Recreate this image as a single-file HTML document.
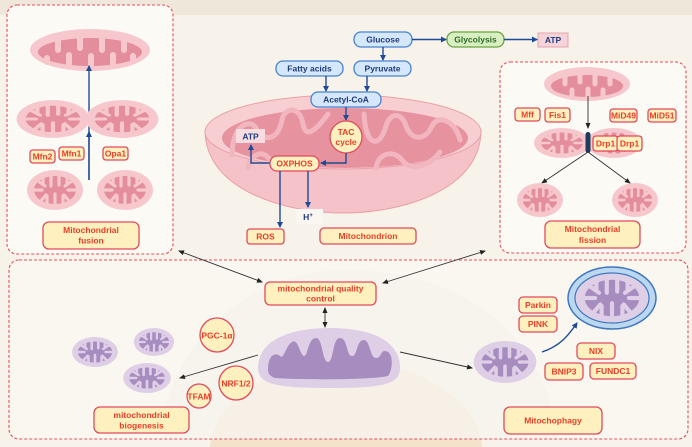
<!DOCTYPE html>
<html><head><meta charset="utf-8"><style>
html,body{margin:0;padding:0;background:#f7f3ea;width:692px;height:447px;overflow:hidden}
svg{display:block}
text{font-family:"Liberation Sans",Arial,sans-serif;font-weight:bold}
.r{fill:#fff0bf;stroke:#e14a5c;stroke-width:1.3}
.rt{fill:#ea3f27;font-size:8.5px;text-anchor:middle}
.b{fill:#d5e8fb;stroke:#4683d0;stroke-width:1.3}
.bt{fill:#1f3b78;font-size:8.5px;text-anchor:middle}
.ba{stroke:#1f4b96;stroke-width:1.4;fill:none}
.ka{stroke:#333;stroke-width:0.9;fill:none}
</style></head><body>
<svg width="692" height="447" viewBox="0 0 692 447" xmlns="http://www.w3.org/2000/svg">
<defs>
<marker id="ab" markerWidth="6" markerHeight="6" refX="5" refY="3" orient="auto" markerUnits="userSpaceOnUse"><path d="M0,0L6,3L0,6Z" fill="#1f4b96"/></marker>
<marker id="ak" markerWidth="6" markerHeight="6" refX="5" refY="3" orient="auto" markerUnits="userSpaceOnUse"><path d="M0,0.5L6,3L0,5.5Z" fill="#222"/></marker>
<marker id="aks" markerWidth="6" markerHeight="6" refX="1" refY="3" orient="auto" markerUnits="userSpaceOnUse"><path d="M6,0.5L0,3L6,5.5Z" fill="#222"/></marker>
<g id="smp">
<ellipse cx="0" cy="0" rx="28" ry="20" fill="#f6c8ce"/>
<ellipse cx="0" cy="0" rx="21" ry="14" fill="#e48d9c"/>
<path d="M-12,-15V-6M-4,-16V-4M4,-16V-5M12,-15V-6M-8,15V6M0,16V4M8,15V6M15,12L9,5M-15,12L-9,5M-22,0H-13M22,0H13M-17,-9L-10,-4M17,-9L10,-4" stroke="#f6c8ce" stroke-width="3.2" stroke-linecap="round"/>
</g>
<g id="smu">
<ellipse cx="0" cy="0" rx="28" ry="20" fill="#dfcfe6"/>
<ellipse cx="0" cy="0" rx="21" ry="14" fill="#a78cc0"/>
<path d="M-12,-15V-6M-4,-16V-4M4,-16V-5M12,-15V-6M-8,15V6M0,16V4M8,15V6M15,12L9,5M-15,12L-9,5M-22,0H-13M22,0H13M-17,-9L-10,-4M17,-9L10,-4" stroke="#dfcfe6" stroke-width="3.2" stroke-linecap="round"/>
</g>
<g id="smi">
<ellipse cx="0" cy="0" rx="21" ry="14" fill="#a78cc0"/>
<path d="M-12,-15V-6M-4,-16V-4M4,-16V-5M12,-15V-6M-8,15V6M0,16V4M8,15V6M15,12L9,5M-15,12L-9,5M-22,0H-13M22,0H13M-17,-9L-10,-4M17,-9L10,-4" stroke="#dfcfe6" stroke-width="3.2" stroke-linecap="round"/>
</g>
</defs>
<rect width="692" height="447" fill="#f7f3ea"/>
<rect width="692" height="15" fill="#efe8da"/>
<path d="M210,447 C215,400 270,362 345,362 C420,362 478,400 482,447Z" fill="#f3ddc2" opacity="0.8"/>
<path d="M160,440 C170,330 260,270 345,270 C450,270 540,320 560,440Z" fill="#ece8e2" opacity="0.45"/>

<!-- left panel -->
<rect x="7" y="5" width="166" height="249" rx="10" fill="#fcfaf5" stroke="#e2505f" stroke-width="1.1" stroke-dasharray="3,2"/>
<ellipse cx="90" cy="50" rx="60" ry="21" fill="#f6c8ce"/>
<ellipse cx="90" cy="52" rx="52" ry="14" fill="#e48d9c"/>
<path d="M58,40V50M80,38V48M102,38V50M124,40V50M47,62V58M69,64V55M91,65V56M113,64V55M133,60V56" stroke="#f6c8ce" stroke-width="6" stroke-linecap="round"/>
<line x1="89" y1="180" x2="89" y2="66" class="ba" marker-end="url(#ab)"/>
<use href="#smp" transform="translate(53,119) scale(1.3,0.95)"/><use href="#smp" transform="translate(122,119) scale(1.3,0.95)"/>
<line x1="89" y1="180" x2="89" y2="132" class="ba" marker-end="url(#ab)"/>
<use href="#smp" transform="translate(55,190)"/><use href="#smp" transform="translate(125,190)"/>
<rect x="30" y="150" width="25" height="13" rx="3" class="r"/><text x="42.5" y="159.5" class="rt" font-size="8">Mfn2</text>
<rect x="59" y="147" width="25" height="13" rx="3" class="r"/><text x="71.5" y="156.5" class="rt" font-size="8">Mfn1</text>
<rect x="103" y="147" width="25" height="13" rx="3" class="r"/><text x="115.5" y="156.5" class="rt" font-size="8">Opa1</text>
<rect x="43" y="222" width="96" height="27" rx="6" class="r"/><text x="91" y="233" class="rt">Mitochondrial</text><text x="91" y="243.5" class="rt">fusion</text>

<!-- right panel -->
<rect x="500" y="62" width="186" height="191" rx="10" fill="#fcfaf5" stroke="#e2505f" stroke-width="1.1" stroke-dasharray="3,2"/>
<ellipse cx="587" cy="84" rx="43" ry="17" fill="#f6c8ce"/>
<ellipse cx="587" cy="86" rx="36" ry="11" fill="#e48d9c"/>
<path d="M565,77V84M580,75V82M595,75V84M610,77V84M572,96V90M588,97V89M603,96V90" stroke="#f6c8ce" stroke-width="5" stroke-linecap="round"/>
<line x1="588" y1="96" x2="588" y2="128" class="ka" marker-end="url(#ak)"/>
<use href="#smp" transform="translate(562,143) scale(1,0.75)"/><use href="#smp" transform="translate(614,143) scale(1,0.75)"/>
<rect x="585.5" y="132" width="5" height="21" rx="2.5" fill="#1f3a5c"/>
<line x1="588" y1="152" x2="542" y2="183" class="ka" marker-end="url(#ak)"/>
<line x1="588" y1="152" x2="630" y2="183" class="ka" marker-end="url(#ak)"/>
<use href="#smp" transform="translate(540,200) scale(0.82,0.85)"/><use href="#smp" transform="translate(635,200) scale(0.82,0.85)"/>
<rect x="515" y="108" width="25" height="13" rx="3" class="r"/><text x="527.5" y="117.5" class="rt" font-size="8">Mff</text>
<rect x="545" y="108" width="25" height="14" rx="3" class="r"/><text x="557.5" y="118" class="rt" font-size="8">Fis1</text>
<rect x="610" y="109" width="27" height="13" rx="3" class="r"/><text x="623.5" y="118.5" class="rt" font-size="8">MiD49</text>
<rect x="648" y="109" width="28" height="13" rx="3" class="r"/><text x="662" y="118.5" class="rt" font-size="8">MiD51</text>
<rect x="593" y="136" width="25" height="15" rx="3" class="r"/><text x="605.5" y="146.5" class="rt" font-size="8">Drp1</text>
<rect x="617" y="136" width="25" height="15" rx="3" class="r"/><text x="629.5" y="146.5" class="rt" font-size="8">Drp1</text>
<rect x="545" y="221" width="95" height="27" rx="6" class="r"/><text x="592.5" y="232" class="rt">Mitochondrial</text><text x="592.5" y="243" class="rt">fission</text>

<!-- central bowl -->
<path d="M205,130 C205,190 285,213 343,213 C402,213 481,190 481,130 Z" fill="#f4c2c8" stroke="#eaa0aa" stroke-width="1"/>
<ellipse cx="343" cy="132" rx="138" ry="37" fill="#f7cfd3" stroke="#eaa0aa" stroke-width="1"/>
<ellipse cx="345" cy="138" rx="123" ry="30" fill="#e7939f"/>
<path d="M232,155 C232,125 250,118 256,128 C262,142 278,142 282,120 C285,106 300,106 303,124 C306,142 320,125 328,114 M364,114 C366,148 380,148 386,126 C390,112 402,112 406,126 C412,142 426,140 432,126 C438,114 455,120 460,140 M248,168 C252,152 264,150 270,160 M376,168 C378,152 395,150 402,160 C410,172 430,166 440,152" stroke="#f2b6c0" stroke-width="5" fill="none" stroke-linecap="round"/>
<!-- top flow -->
<rect x="354" y="32" width="58" height="15" rx="7" class="b"/><text x="383" y="42.5" class="bt">Glucose</text>
<rect x="447" y="32" width="57" height="15" rx="7" fill="#d8efc4" stroke="#6aa33f" stroke-width="1.3"/><text x="475.5" y="42.5" class="bt" style="fill:#2f6b1e">Glycolysis</text>
<rect x="538" y="33" width="30" height="14" fill="#f6d3d8" stroke="#e4a4ae" stroke-width="1"/><text x="553" y="43" class="bt">ATP</text>
<line x1="412" y1="39.5" x2="446" y2="39.5" class="ba" marker-end="url(#ab)"/>
<line x1="504" y1="39.5" x2="537" y2="39.5" class="ba" marker-end="url(#ab)"/>
<line x1="383" y1="47" x2="383" y2="60" class="ba" marker-end="url(#ab)"/>
<rect x="354" y="61" width="57" height="15" rx="7" class="b"/><text x="382.5" y="71.5" class="bt">Pyruvate</text>
<rect x="276" y="61" width="67" height="15" rx="7" class="b"/><text x="309.5" y="71.5" class="bt">Fatty acids</text>
<line x1="326" y1="76" x2="326" y2="91" class="ba" marker-end="url(#ab)"/>
<line x1="367" y1="76" x2="367" y2="91" class="ba" marker-end="url(#ab)"/>
<rect x="311" y="92" width="70" height="15" rx="7" class="b"/><text x="346" y="102.5" class="bt">Acetyl-CoA</text>
<line x1="346" y1="107" x2="346" y2="120" class="ba" marker-end="url(#ab)"/>
<circle cx="346" cy="137" r="16" class="r"/><text x="346" y="135" class="rt">TAC</text><text x="346" y="145" class="rt">cycle</text>
<path d="M346,153 V163 H321" class="ba" marker-end="url(#ab)"/>
<rect x="236" y="129" width="29" height="14" fill="#f8dce0"/><text x="250.5" y="139.5" class="bt">ATP</text>
<path d="M270,163 H251 V145" class="ba" marker-end="url(#ab)"/>
<rect x="270" y="156" width="49" height="15" rx="7" class="r"/><text x="294.5" y="166.5" class="rt">OXPHOS</text>
<line x1="280" y1="171" x2="280" y2="227" class="ba" marker-end="url(#ab)"/>
<line x1="308" y1="171" x2="308" y2="207" class="ba" marker-end="url(#ab)"/>
<rect x="296" y="209" width="27" height="15" fill="#faf7f2"/><text x="308" y="220" class="bt">H<tspan font-size="6" dy="-3">+</tspan></text>
<rect x="247" y="229" width="37" height="15" rx="3" class="r"/><text x="265.5" y="239.5" class="rt">ROS</text>
<rect x="320" y="228" width="96" height="16" rx="4" class="r"/><text x="368" y="239" class="rt">Mitochondrion</text>

<!-- bottom panel -->
<rect x="9" y="260" width="679" height="179" rx="10" fill="#fbf9f4" fill-opacity="0.55" stroke="#e2505f" stroke-width="1.1" stroke-dasharray="3,2"/>
<line x1="179" y1="251" x2="262" y2="282" class="ka" marker-start="url(#aks)" marker-end="url(#ak)"/>
<line x1="485" y1="251" x2="383" y2="283" class="ka" marker-start="url(#aks)" marker-end="url(#ak)"/>
<rect x="265" y="282" width="111" height="23" rx="5" class="r"/><text x="320.5" y="291.5" class="rt" font-size="8">mitochondrial quality</text><text x="320.5" y="301.5" class="rt" font-size="8">control</text>
<line x1="325" y1="308" x2="325" y2="327" class="ka" marker-start="url(#aks)" marker-end="url(#ak)"/>
<path d="M258,368 C258,340 290,328 330,328 C370,328 400,340 400,368 C400,384 385,388 330,388 C275,388 258,384 258,368Z" fill="#dfcfe6"/>
<path d="M268,370 C268,355 275,352 280,356 C284,360 286,345 292,342 C298,338 300,355 304,356 C308,356 308,338 316,338 C323,338 322,362 328,362 C334,362 332,338 340,338 C348,338 346,356 352,356 C358,356 356,340 364,340 C370,340 370,358 376,358 C382,358 380,348 388,352 C394,356 392,372 388,376 C370,380 300,380 275,378 C270,376 268,374 268,370Z" fill="#a78cc0"/>
<line x1="258" y1="355" x2="180" y2="378" class="ka" marker-end="url(#ak)"/>
<line x1="400" y1="352" x2="472" y2="368" class="ka" marker-end="url(#ak)"/>
<use href="#smu" transform="translate(95,352) scale(0.82,0.75)"/>
<use href="#smu" transform="translate(154,342) scale(0.72,0.7)"/>
<use href="#smu" transform="translate(147,378) scale(0.85,0.75)"/>
<use href="#smu" transform="translate(505,362) scale(1.12,1.05)"/>
<ellipse cx="217" cy="335" rx="17" ry="17" class="r"/><text x="217" y="338.5" class="rt" font-size="8">PGC-1α</text>
<ellipse cx="236" cy="383" rx="17" ry="17" class="r"/><text x="236" y="386.5" class="rt" font-size="8">NRF1/2</text>
<circle cx="199" cy="396" r="12" class="r"/><text x="199" y="399.5" class="rt" font-size="7.5">TFAM</text>
<rect x="94" y="407" width="95" height="26" rx="6" class="r"/><text x="141.5" y="418" class="rt" font-size="8">mitochondrial</text><text x="141.5" y="428.5" class="rt" font-size="8">biogenesis</text>
<ellipse cx="612" cy="298" rx="44" ry="31" fill="#bcd8f0" stroke="#3f77bd" stroke-width="1.5"/>
<ellipse cx="612" cy="298" rx="37" ry="25" fill="#dfcfe6" stroke="#3f77bd" stroke-width="1.2"/>
<use href="#smi" transform="translate(612,298) scale(1.3,1.3)"/>
<path d="M542,352 C560,346 568,336 577,323" class="ba" marker-end="url(#ab)"/>
<rect x="519" y="297" width="38" height="16" rx="4" class="r"/><text x="538" y="308" class="rt">Parkin</text>
<rect x="519" y="316" width="38" height="16" rx="4" class="r"/><text x="538" y="327" class="rt">PINK</text>
<rect x="577" y="343" width="38" height="16" rx="4" class="r"/><text x="596" y="354" class="rt">NIX</text>
<rect x="545" y="363" width="38" height="17" rx="4" class="r"/><text x="564" y="374.5" class="rt">BNIP3</text>
<rect x="590" y="363" width="46" height="16" rx="4" class="r"/><text x="613" y="374" class="rt">FUNDC1</text>
<rect x="504" y="407" width="98" height="27" rx="6" class="r"/><text x="553" y="423.5" class="rt">Mitochophagy</text>
</svg>
</body></html>
